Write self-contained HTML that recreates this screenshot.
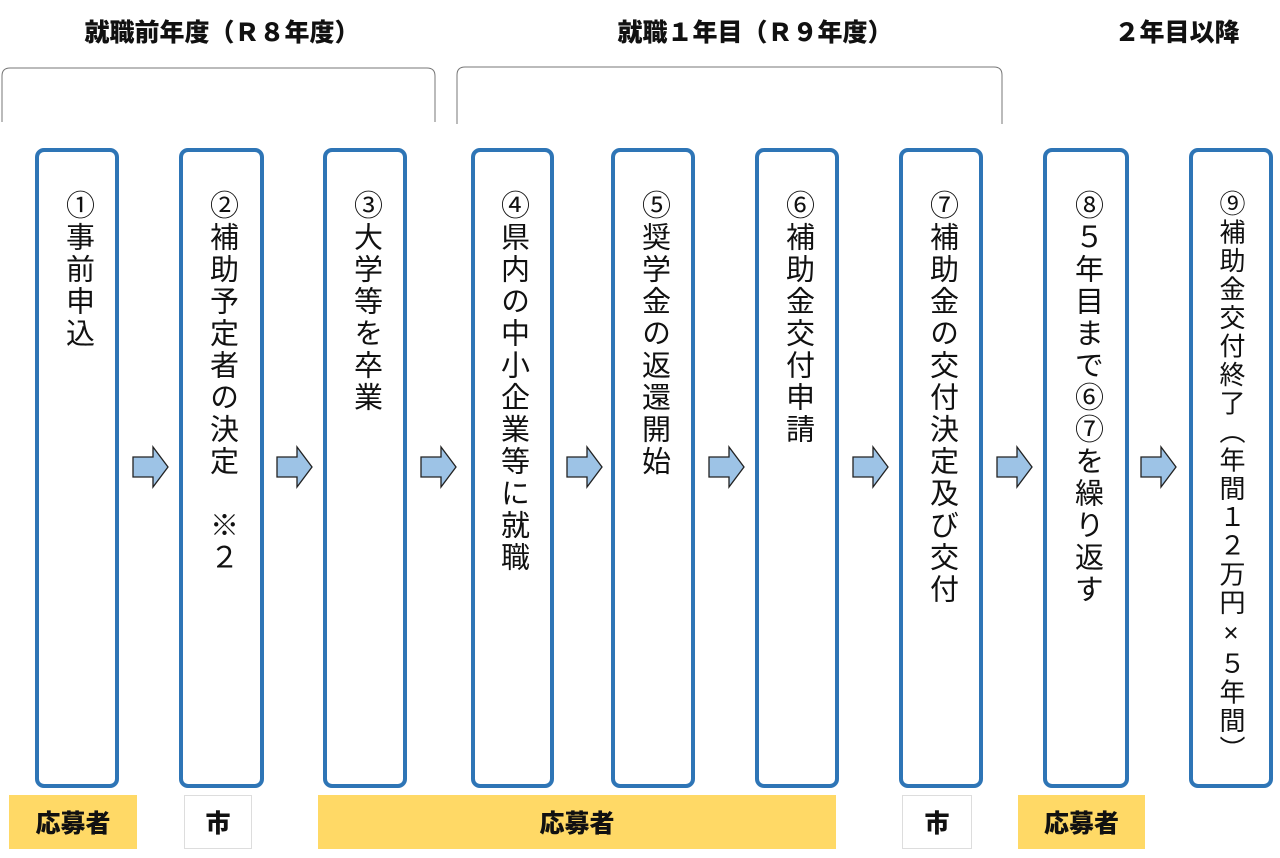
<!DOCTYPE html>
<html><head><meta charset="utf-8"><style>
body{margin:0;width:1280px;height:858px;background:#fff;position:relative;overflow:hidden;font-family:"Liberation Sans","Noto Sans CJK JP",sans-serif;}
.h{position:absolute;top:13px;font-weight:900;font-size:25px;color:#111;white-space:nowrap;transform:translateX(-50%);}
.box{position:absolute;top:148px;height:640px;border:4px solid #2e75b6;border-radius:9px;box-sizing:border-box;}
.t{position:absolute;top:190px;writing-mode:vertical-rl;font-size:29px;letter-spacing:3px;color:#111;transform:translateX(-50%);white-space:nowrap;line-height:1;}
.lab{position:absolute;top:795px;height:54px;display:flex;align-items:center;justify-content:center;font-weight:900;font-size:25px;color:#111;box-sizing:border-box;}
.y{background:#ffd966;}
.w{background:#fff;border:1px solid #ddd;}
svg{position:absolute;left:0;top:0;}
</style></head><body>
<div class="h" style="left:222px">就職前年度（Ｒ８年度）</div>
<div class="h" style="left:755px">就職１年目（Ｒ９年度）</div>
<div class="h" style="left:1177px">２年目以降</div>
<svg width="1280" height="858">
<path d="M2 122 V76 Q2 68 10 68 H427 Q435 68 435 76 V122" fill="none" stroke="#777" stroke-width="1"/>
<path d="M457 124 V75 Q457 67 465 67 H994 Q1002 67 1002 75 V124" fill="none" stroke="#777" stroke-width="1"/>
<g fill="#9dc3e6" stroke="#222" stroke-width="1.3">
<path transform="translate(133,447)" d="M0 10 H20 V0 L35 20 L20 40 V30 H0 Z"/>
<path transform="translate(277,447)" d="M0 10 H20 V0 L35 20 L20 40 V30 H0 Z"/>
<path transform="translate(421,447)" d="M0 10 H20 V0 L35 20 L20 40 V30 H0 Z"/>
<path transform="translate(567,447)" d="M0 10 H20 V0 L35 20 L20 40 V30 H0 Z"/>
<path transform="translate(709,447)" d="M0 10 H20 V0 L35 20 L20 40 V30 H0 Z"/>
<path transform="translate(853,447)" d="M0 10 H20 V0 L35 20 L20 40 V30 H0 Z"/>
<path transform="translate(997,447)" d="M0 10 H20 V0 L35 20 L20 40 V30 H0 Z"/>
<path transform="translate(1141,447)" d="M0 10 H20 V0 L35 20 L20 40 V30 H0 Z"/>
</g>
</svg>
<div class="box" style="left:35px;width:84px"></div>
<div class="box" style="left:179px;width:85px"></div>
<div class="box" style="left:323px;width:84px"></div>
<div class="box" style="left:471px;width:83px"></div>
<div class="box" style="left:611px;width:84px"></div>
<div class="box" style="left:755px;width:84px"></div>
<div class="box" style="left:899px;width:84px"></div>
<div class="box" style="left:1043px;width:86px"></div>
<div class="box" style="left:1189px;width:84px"></div>
<div class="t" style="left:77px">①事前申込</div>
<div class="t" style="left:221px">②補助予定者の決定　※２</div>
<div class="t" style="left:365px">③大学等を卒業</div>
<div class="t" style="left:512px">④県内の中小企業等に就職</div>
<div class="t" style="left:653px">⑤奨学金の返還開始</div>
<div class="t" style="left:797px">⑥補助金交付申請</div>
<div class="t" style="left:941px">⑦補助金の交付決定及び交付</div>
<div class="t" style="left:1086px">⑧５年目まで⑥⑦を繰り返す</div>
<div class="t" style="left:1231px;font-size:26px;letter-spacing:2.5px">⑨補助金交付終了（年間１２万円×５年間）</div>
<div class="lab y" style="left:9px;width:128px">応募者</div>
<div class="lab w" style="left:184px;width:68px">市</div>
<div class="lab y" style="left:318px;width:518px">応募者</div>
<div class="lab w" style="left:902px;width:70px">市</div>
<div class="lab y" style="left:1018px;width:127px">応募者</div>
</body></html>
